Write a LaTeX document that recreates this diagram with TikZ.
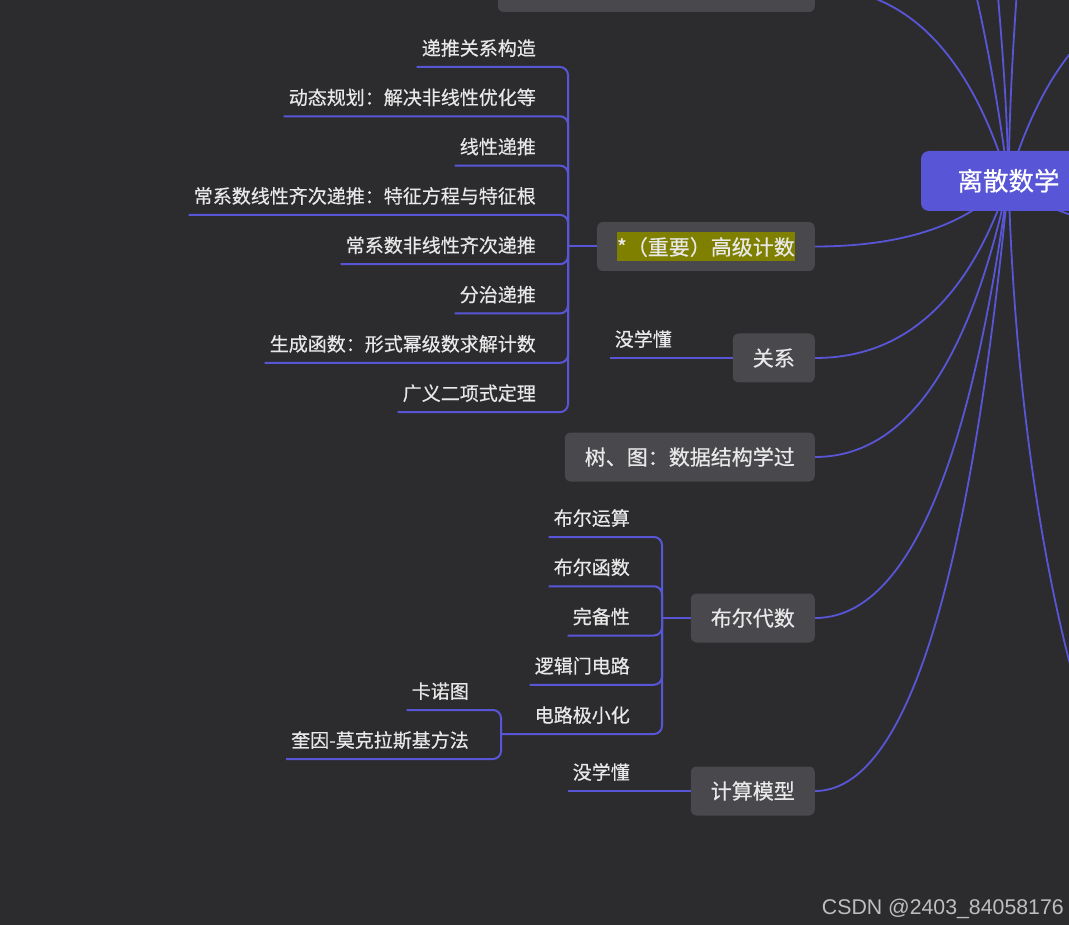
\documentclass[tikz,border=0pt]{standalone}
\usepackage{fontspec}
\setmainfont[FakeBold=0.5]{Noto Sans CJK SC}
\newfontfamily\markfont{Liberation Sans}
\usetikzlibrary{backgrounds}
\definecolor{bgdark}{RGB}{44,44,47}
\definecolor{boxgray}{RGB}{73,72,77}
\definecolor{linkblue}{RGB}{88,86,214}
\definecolor{hlolive}{RGB}{128,128,0}
\definecolor{lighttext}{RGB}{232,232,232}
\definecolor{marktext}{RGB}{190,190,190}

\begin{document}
\begin{tikzpicture}[x=1pt, y=-1pt,
    topic/.style={fill=boxgray, rounded corners=6pt, text=lighttext, font=\fontsize{21}{21}\selectfont,
        minimum height=49pt, inner xsep=20pt, inner ysep=0pt, text height=16pt, text depth=0pt, anchor=east},
    leaf/.style={text=lighttext, font=\fontsize{19}{19}\selectfont, inner xsep=5pt, inner ysep=0pt,
        text height=16pt, text depth=11.5pt, anchor=south east},
    link/.style={draw=linkblue, line width=2pt, rounded corners=8pt},
    branch/.style={draw=linkblue, line width=1.8pt}]

    \useasboundingbox (0,0) rectangle (1069,925);

    \node[fill=linkblue, rounded corners=8pt, text=white, font=\fontsize{25.5}{25.5}\selectfont,
        minimum width=175pt, minimum height=60pt, text height=19pt, text depth=0pt] (root) at (1008.5,181) {离散数学};

    \node[topic, minimum width=317pt] (upper) at (815,-12.5) {};
    \node[topic, text height=23pt, text depth=6pt] (counting) at (815,246.5)
        {\setlength{\fboxsep}{0pt}\colorbox{hlolive}{\rule[-6pt]{0pt}{29pt}*（重要）高级计数}};
    \node[topic] (relation) at (815,358) {关系};
    \node[topic] (graph) at (815,457) {树、图：数据结构学过};
    \node[topic] (boolean) at (815,618) {布尔代数};
    \node[topic] (model) at (815,791) {计算模型};

    \coordinate (cj) at (568,246.5);
    \node[leaf] (c1) at (541,67) {递推关系构造};
    \node[leaf] (c2) at (541,116.3) {动态规划：解决非线性优化等};
    \node[leaf] (c3) at (541,165.6) {线性递推};
    \node[leaf] (c4) at (541,214.9) {常系数线性齐次递推：特征方程与特征根};
    \node[leaf] (c5) at (541,264.2) {常系数非线性齐次递推};
    \node[leaf] (c6) at (541,313.5) {分治递推};
    \node[leaf] (c7) at (541,362.8) {生成函数：形式幂级数求解计数};
    \node[leaf] (c8) at (541,412.1) {广义二项式定理};
    \draw[link] (counting.west) -- (cj);
    \draw[link] (cj) |- (c1.south west);
    \draw[link] (cj) |- (c2.south west);
    \draw[link] (cj) |- (c3.south west);
    \draw[link] (cj) |- (c4.south west);
    \draw[link] (cj) |- (c5.south west);
    \draw[link] (cj) |- (c6.south west);
    \draw[link] (cj) |- (c7.south west);
    \draw[link] (cj) |- (c8.south west);

    \node[leaf] (r1) at (677,358) {没学懂};
    \draw[link] (relation.west) -- (r1.south west);

    \coordinate (bj) at (662,618);
    \coordinate (mj) at (501,734);
    \node[leaf] (b1) at (635,537) {布尔运算};
    \node[leaf] (b2) at (635,586.25) {布尔函数};
    \node[leaf] (b3) at (635,635.5) {完备性};
    \node[leaf] (b4) at (635,684.75) {逻辑门电路};
    \node[leaf] (b5) at (635,734) {电路极小化};
    \node[leaf] (m1) at (474,710) {卡诺图};
    \node[leaf] (m2) at (474,759) {奎因-莫克拉斯基方法};
    \draw[link] (boolean.west) -- (bj);
    \draw[link] (bj) |- (b1.south west);
    \draw[link] (bj) |- (b2.south west);
    \draw[link] (bj) |- (b3.south west);
    \draw[link] (bj) |- (b4.south west);
    \draw[link] (bj) |- (mj);
    \draw[link] (mj) |- (m1.south west);
    \draw[link] (mj) |- (m2.south west);

    \node[leaf] (k1) at (635,791) {没学懂};
    \draw[link] (model.west) -- (k1.south west);

    \node[font=\markfont\fontsize{21.3}{21.3}\selectfont, text=marktext, anchor=base east, inner sep=0pt] (mark)
        at (1064,914) {CSDN @2403\_84058176};

    \begin{scope}[on background layer]
    \clip (0,0) rectangle (1069,925);
    \fill[bgdark] (0,0) rectangle (1069,925);
    \coordinate (up1) at (815,-260);
    \coordinate (up2) at (985,-200);
    \coordinate (up3) at (1030,-200);
    \coordinate (right1) at (1201,-12);
    \coordinate (right2) at (1201,232);
    \coordinate (right3) at (1080,700);
    \draw[branch] (root.center) .. controls +(-39,-129) and +(90,0) .. (upper.east);
    \draw[branch] (root.center) .. controls +(-39,-294) and +(90,0) .. (up1);
    \draw[branch] (root.center) .. controls +(-3,-150) and +(5,150) .. (up2);
    \draw[branch] (root.center) .. controls +(2,-150) and +(-8,150) .. (up3);
    \draw[branch] (root.center) .. controls +(39,-129) and +(-90,0) .. (right1);
    \draw[branch] (root.center) .. controls +(39,34) and +(-90,0) .. (right2);
    \draw[branch] (root.center) .. controls +(7,239) and +(-30,-100) .. (right3);
    \draw[branch] (root.center) .. controls +(-39,43) and +(90,0) .. (counting.east);
    \draw[branch] (root.center) .. controls +(-39,118) and +(90,0) .. (relation.east);
    \draw[branch] (root.center) .. controls +(-39,184) and +(90,0) .. (graph.east);
    \draw[branch] (root.center) .. controls +(-39,291) and +(90,0) .. (boolean.east);
    \draw[branch] (root.center) .. controls +(-39,407) and +(90,0) .. (model.east);
    \end{scope}
    %
\end{tikzpicture}
\end{document}
